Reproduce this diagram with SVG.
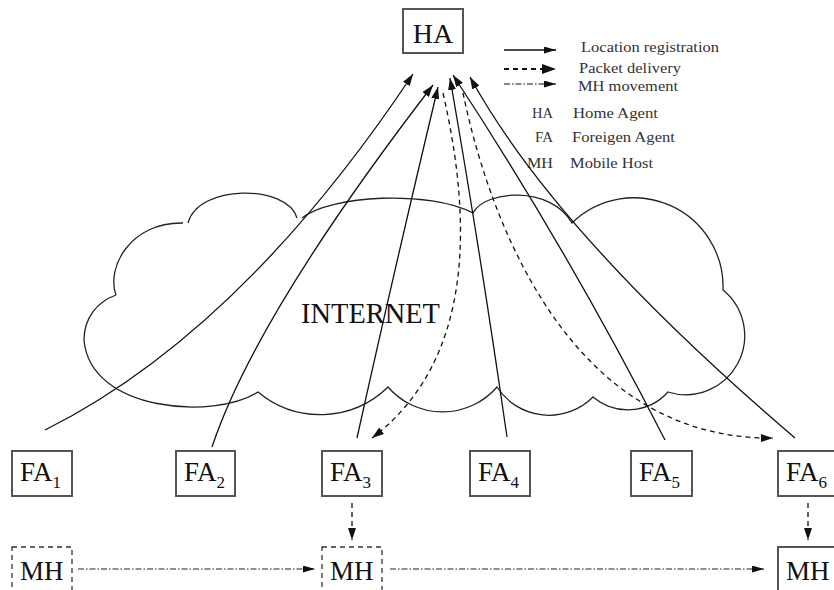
<svg xmlns="http://www.w3.org/2000/svg" width="834" height="590" viewBox="0 0 834 590">
<style>
text{font-family:"Liberation Serif","Times New Roman",serif;fill:#111}
.box{fill:#fff;stroke:#555;stroke-width:2}
.dbox{fill:#fff;stroke:#333;stroke-width:1.3;stroke-dasharray:5 4}
.lbl{font-size:27px}
.sub{font-size:17px}
.leg{font-size:15px;fill:#333}
.reg{fill:none;stroke:#111;stroke-width:1.3;marker-end:url(#ah)}
.pkt{fill:none;stroke:#111;stroke-width:1.3;stroke-dasharray:5 4;marker-end:url(#ah)}
.mov{fill:none;stroke:#222;stroke-width:1.2;stroke-dasharray:6 2 1.5 2;marker-end:url(#ahs)}
.cloud{fill:none;stroke:#222;stroke-width:1.3}
</style>
<defs>
<marker id="ah" viewBox="0 0 12 8" refX="12" refY="4" markerWidth="12" markerHeight="8" markerUnits="userSpaceOnUse" orient="auto"><path d="M0,0 L12,4 L0,8 z" fill="#111"/></marker>
<marker id="ahs" viewBox="0 0 12 7" refX="12" refY="3.5" markerWidth="12" markerHeight="7" markerUnits="userSpaceOnUse" orient="auto"><path d="M0,0 L12,3.5 L0,7 z" fill="#111"/></marker>
<marker id="ahb" viewBox="0 0 14 10" refX="14" refY="5" markerWidth="14" markerHeight="10" markerUnits="userSpaceOnUse" orient="auto"><path d="M0,0 L14,5 L0,10 z" fill="#111"/></marker>
</defs>

<g id="cloud">
<path class="cloud" d="M116,295 C106,268 130,222 183,223 M188,223 C198,184 287,184 297,218 M302,218 C330,195 430,190 473,213 C485,190 550,185 572,223 A89,89 0 0 1 723,290 A59,59 0 0 1 668,392 A54,54 0 0 1 593,397 A62,62 0 0 1 497,387 A72,72 0 0 1 388,387 A97,97 0 0 1 258,392 C215,420 90,412 84,340 C84,318 97,302 116,295"/>
<text x="301" y="323" font-size="29" textLength="139" lengthAdjust="spacingAndGlyphs">INTERNET</text>
</g>

<g id="HA">
<rect class="box" x="403" y="9" width="60" height="44"/>
<text x="433" y="43" font-size="28" text-anchor="middle">HA</text>
</g>

<g id="legend">
<line x1="504" y1="50" x2="556" y2="50" stroke="#111" stroke-width="1.3" marker-end="url(#ahs)"/>
<line x1="504" y1="69" x2="556" y2="69" stroke="#111" stroke-width="2" stroke-dasharray="5 4" marker-end="url(#ahb)"/>
<line x1="504" y1="84" x2="556" y2="84" stroke="#111" stroke-width="1.2" stroke-dasharray="6 2 1.5 2" marker-end="url(#ahs)"/>
<text class="leg" x="581" y="52" textLength="138" lengthAdjust="spacingAndGlyphs">Location registration</text>
<text class="leg" x="579" y="73" font-size="16" textLength="102" lengthAdjust="spacingAndGlyphs">Packet delivery</text>
<text class="leg" x="578" y="91" textLength="100" lengthAdjust="spacingAndGlyphs">MH movement</text>
<text class="leg" x="532" y="118" textLength="21" lengthAdjust="spacingAndGlyphs">HA</text>
<text class="leg" x="573" y="118" textLength="85" lengthAdjust="spacingAndGlyphs">Home Agent</text>
<text class="leg" x="535" y="142" textLength="18" lengthAdjust="spacingAndGlyphs">FA</text>
<text class="leg" x="572" y="142" textLength="103" lengthAdjust="spacingAndGlyphs">Foreigen Agent</text>
<text class="leg" x="527" y="168" textLength="26" lengthAdjust="spacingAndGlyphs">MH</text>
<text class="leg" x="570" y="168" textLength="83" lengthAdjust="spacingAndGlyphs">Mobile Host</text>
</g>

<g id="FA1"><rect class="box" x="12" y="451" width="60" height="45"/><text class="lbl" x="20" y="481">FA<tspan class="sub" dy="7">1</tspan></text></g>
<g id="FA2"><rect class="box" x="176" y="451" width="59" height="45"/><text class="lbl" x="184" y="481">FA<tspan class="sub" dy="7">2</tspan></text></g>
<g id="FA3"><rect class="box" x="322" y="451" width="60" height="45"/><text class="lbl" x="330" y="481">FA<tspan class="sub" dy="7">3</tspan></text></g>
<g id="FA4"><rect class="box" x="470" y="451" width="60" height="45"/><text class="lbl" x="478" y="481">FA<tspan class="sub" dy="7">4</tspan></text></g>
<g id="FA5"><rect class="box" x="631" y="451" width="61" height="45"/><text class="lbl" x="639" y="481">FA<tspan class="sub" dy="7">5</tspan></text></g>
<g id="FA6"><rect class="box" x="778" y="451" width="62" height="45"/><text class="lbl" x="786" y="481">FA<tspan class="sub" dy="7">6</tspan></text></g>

<g id="MH1"><rect class="dbox" x="12" y="547" width="60" height="50"/><text class="lbl" x="20" y="580">MH</text></g>
<g id="MH3"><rect class="dbox" x="322" y="547" width="60" height="50"/><text class="lbl" x="330" y="580">MH</text></g>
<g id="MH6"><rect class="box" x="778" y="547" width="62" height="50" stroke-width="1.5"/><text class="lbl" x="786" y="580">MH</text></g>

<g id="connectors">
<path class="reg" d="M45,430 Q241,332 413,74"/>
<path class="reg" d="M212,447 Q256,315 433,85"/>
<path class="reg" d="M357,438 Q392,280 438,87"/>
<path class="reg" d="M507,437 Q480,250 450,78"/>
<path class="reg" d="M665,440 Q568,250 453,75"/>
<path class="reg" d="M795,438 Q556,234 470,77"/>
<path class="pkt" d="M443,93 C472,220 475,360 372,438"/>
<path class="pkt" d="M463,93 C485,200 560,440 773,438"/>
<line class="pkt" x1="352" y1="503" x2="352" y2="540"/>
<line class="pkt" x1="808" y1="503" x2="808" y2="540"/>
<line class="mov" x1="78" y1="569" x2="315" y2="569"/>
<line class="mov" x1="390" y1="569" x2="764" y2="569"/>
</g>
</svg>
